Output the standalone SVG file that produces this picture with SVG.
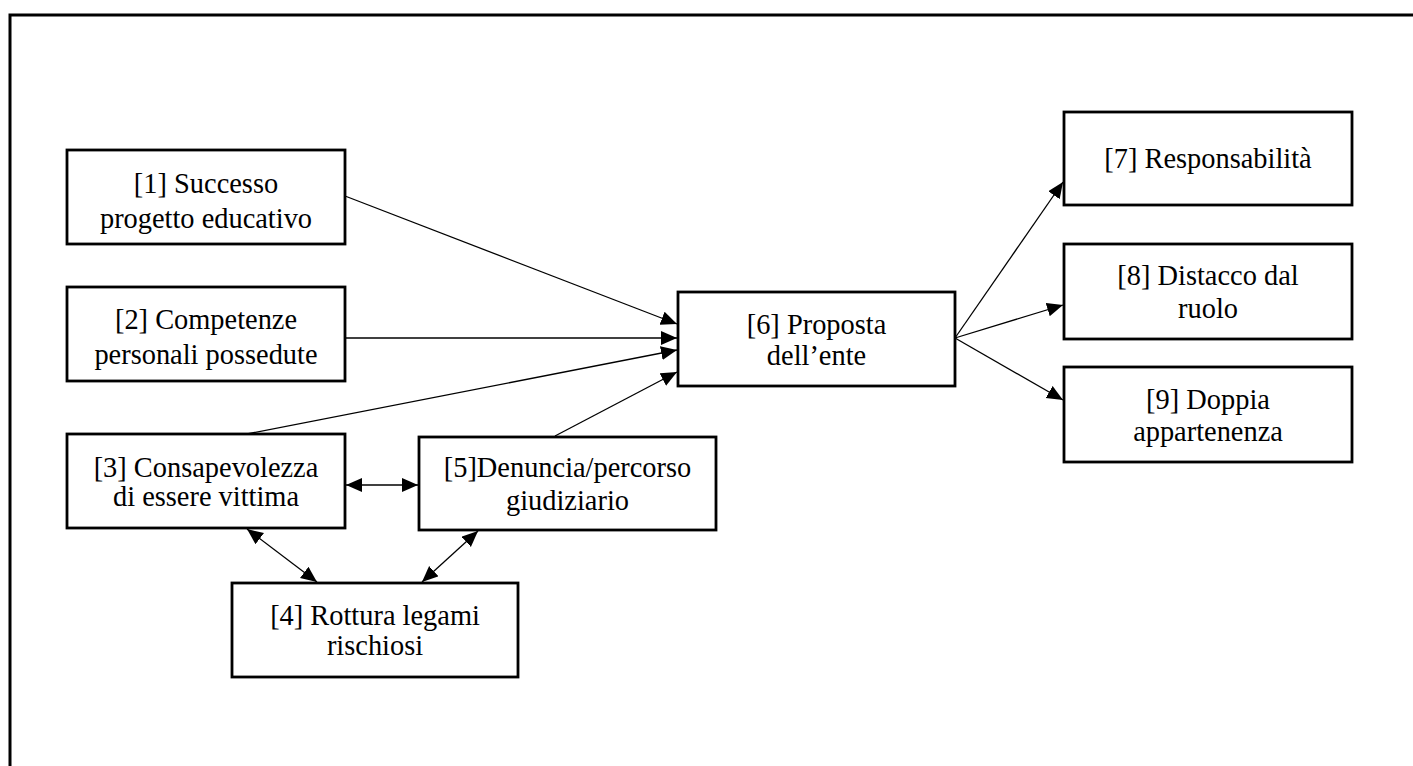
<svg xmlns="http://www.w3.org/2000/svg" width="1413" height="766" viewBox="0 0 1413 766">
<style>
.box{fill:#fff;stroke:#000;stroke-width:2.8}
.t{font-family:"Liberation Serif","Times New Roman",serif;font-size:28.4px;fill:#000;text-anchor:middle}
.c{fill:none;stroke:#000;stroke-width:1.3}
</style>
<defs>
<marker id="ah" markerUnits="userSpaceOnUse" markerWidth="17" markerHeight="15" refX="16" refY="7" orient="auto-start-reverse">
<path d="M0,0 L16,7 L0,14 z" fill="#000"/>
</marker>
</defs>
<rect x="0" y="0" width="1413" height="766" fill="#fff"/>
<rect x="10" y="15" width="1500" height="900" fill="none" stroke="#000" stroke-width="3"/>
<g id="connectors">
<line class="c" x1="345" y1="196" x2="677" y2="324" marker-end="url(#ah)"/>
<line class="c" x1="345" y1="338" x2="677" y2="338" marker-end="url(#ah)"/>
<line class="c" x1="247" y1="434" x2="677" y2="350" marker-end="url(#ah)"/>
<line class="c" x1="555" y1="436" x2="677" y2="372" marker-end="url(#ah)"/>
<line class="c" x1="346" y1="485" x2="418" y2="485" marker-start="url(#ah)" marker-end="url(#ah)"/>
<line class="c" x1="247" y1="529" x2="317" y2="582" marker-start="url(#ah)" marker-end="url(#ah)"/>
<line class="c" x1="478" y1="531" x2="422" y2="582" marker-start="url(#ah)" marker-end="url(#ah)"/>
<line class="c" x1="955" y1="338" x2="1063" y2="182" marker-end="url(#ah)"/>
<line class="c" x1="955" y1="338" x2="1063" y2="305" marker-end="url(#ah)"/>
<line class="c" x1="955" y1="338" x2="1063" y2="400" marker-end="url(#ah)"/>
</g>
<g id="n1"><rect class="box" x="67" y="150" width="278" height="94"/><text class="t" x="206" y="193">[1] Successo</text><text class="t" x="206" y="228">progetto educativo</text></g>
<g id="n2"><rect class="box" x="67" y="287" width="278" height="94"/><text class="t" x="206" y="329">[2] Competenze</text><text class="t" x="206" y="364">personali possedute</text></g>
<g id="n3"><rect class="box" x="67" y="434" width="278" height="94"/><text class="t" x="206" y="477">[3] Consapevolezza</text><text class="t" x="206" y="506">di essere vittima</text></g>
<g id="n4"><rect class="box" x="232" y="583" width="286" height="94"/><text class="t" x="375" y="625">[4] Rottura legami</text><text class="t" x="375" y="655">rischiosi</text></g>
<g id="n5"><rect class="box" x="419" y="437" width="297" height="93"/><text class="t" x="567.5" y="477">[5]Denuncia/percorso</text><text class="t" x="567.5" y="510">giudiziario</text></g>
<g id="n6"><rect class="box" x="678" y="292" width="277" height="94"/><text class="t" x="816.5" y="334">[6] Proposta</text><text class="t" x="816.5" y="365">dell’ente</text></g>
<g id="n7"><rect class="box" x="1064" y="112" width="288" height="93"/><text class="t" x="1208" y="168">[7] Responsabilità</text></g>
<g id="n8"><rect class="box" x="1064" y="244" width="288" height="95"/><text class="t" x="1208" y="285">[8] Distacco dal</text><text class="t" x="1208" y="318">ruolo</text></g>
<g id="n9"><rect class="box" x="1064" y="367" width="288" height="95"/><text class="t" x="1208" y="409">[9] Doppia</text><text class="t" x="1208" y="441">appartenenza</text></g>
</svg>
